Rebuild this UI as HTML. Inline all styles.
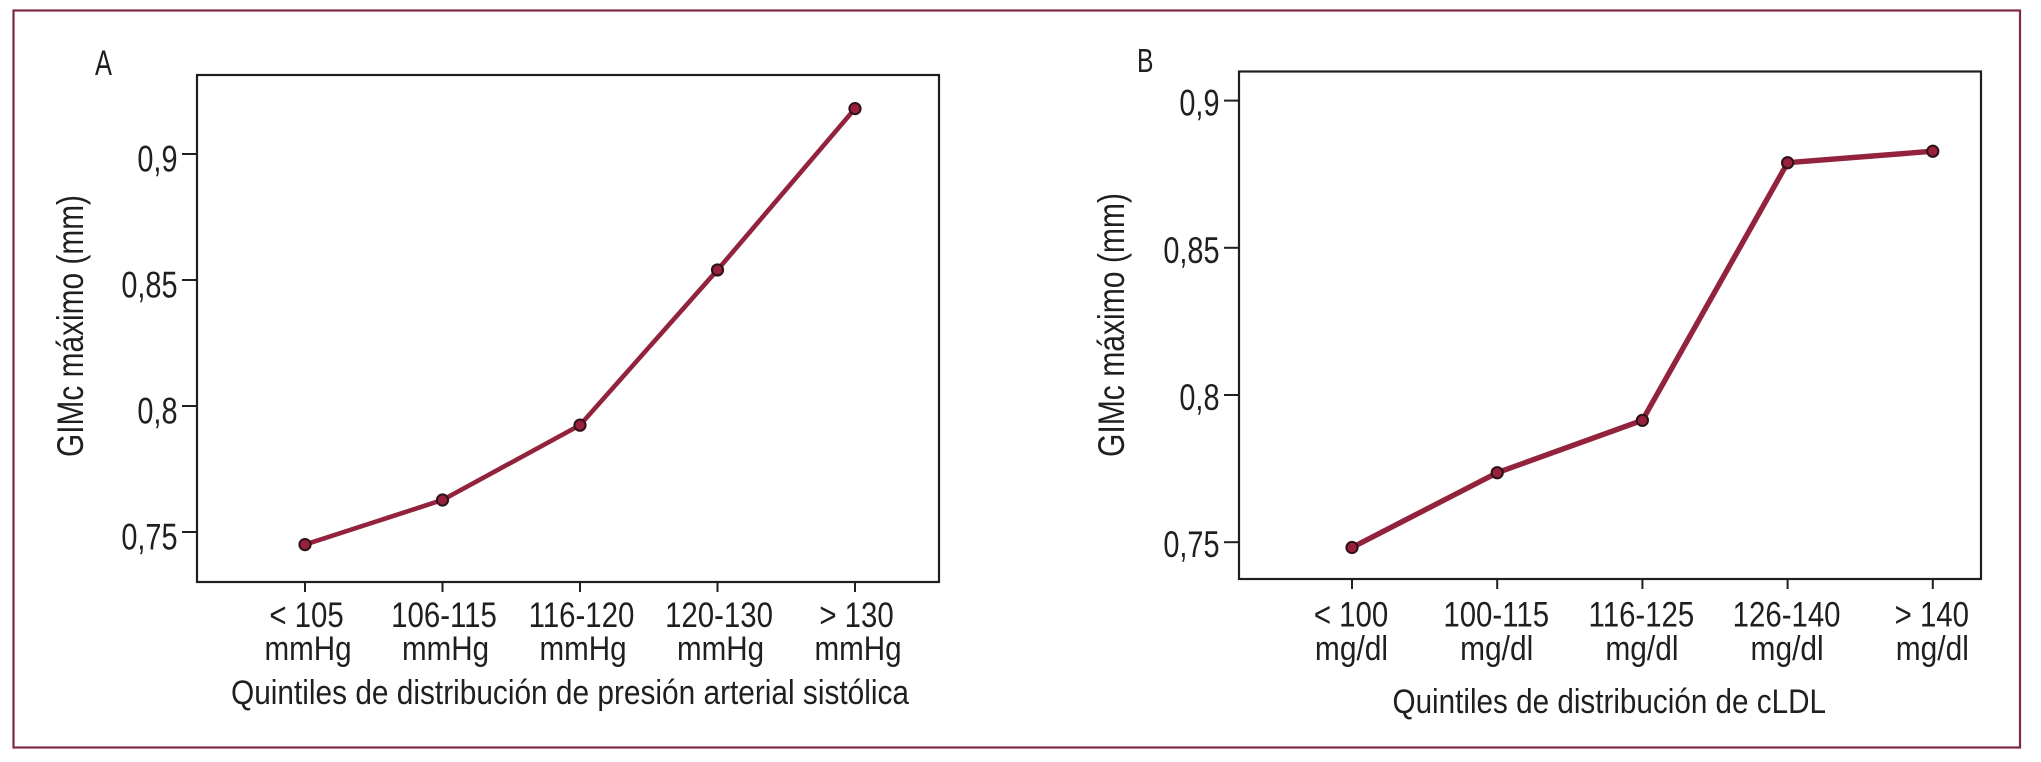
<!DOCTYPE html>
<html lang="es">
<head>
<meta charset="utf-8">
<title>GIMc máximo por quintiles</title>
<style>
html,body{margin:0;padding:0;background:#fff;width:2041px;height:762px;overflow:hidden}
svg{display:block}
text{font-family:"Liberation Sans",sans-serif;fill:#1f1f1f}
</style>
</head>
<body>
<svg id="chart" xmlns="http://www.w3.org/2000/svg" width="2041" height="762" viewBox="0 0 2041 762">
  <rect x="13.5" y="10.5" width="2006.5" height="737" fill="#fff" stroke="#7e2a45" stroke-width="2.2"/>
  <text x="95" y="75" font-size="35" textLength="17" lengthAdjust="spacingAndGlyphs">A</text>
  <text x="1137" y="72" font-size="33" textLength="16.5" lengthAdjust="spacingAndGlyphs">B</text>
  <text transform="translate(83,457) rotate(-90)" font-size="37" textLength="262" lengthAdjust="spacingAndGlyphs">GIMc máximo (mm)</text>
  <text transform="translate(1124,457) rotate(-90)" font-size="37" textLength="264" lengthAdjust="spacingAndGlyphs">GIMc máximo (mm)</text>
  <text x="231" y="704" font-size="34" textLength="678" lengthAdjust="spacingAndGlyphs">Quintiles de distribución de presión arterial sistólica</text>
  <text x="1392.5" y="713" font-size="34" textLength="433.5" lengthAdjust="spacingAndGlyphs">Quintiles de distribución de cLDL</text>
</svg>
<script>
const categoriesA = ['< 105', '106-115', '116-120', '120-130', '> 130'];
const categoriesB = ['< 100', '100-115', '116-125', '126-140', '> 140'];
const valuesA = [0.745, 0.7627, 0.7924, 0.854, 0.918];
const valuesB = [0.7482, 0.7736, 0.7914, 0.8789, 0.8828];
const tickValuesA = [0.75, 0.8, 0.85, 0.9];
const tickValuesB = [0.75, 0.8, 0.85, 0.9];
const tickLabelsA = ['0,75', '0,8', '0,85', '0,9'];
const tickLabelsB = ['0,75', '0,8', '0,85', '0,9'];
const unitA = 'mmHg';
const unitB = 'mg/dl';

const svg = document.getElementById('chart');
const NS = 'http://www.w3.org/2000/svg';
const INK = '#1f1f1f';
const LINE = '#93233c';
const FILL = '#98203a';

function make(tag, attrs, parent) {
  const el = document.createElementNS(NS, tag);
  for (const k in attrs) el.setAttribute(k, attrs[k]);
  parent.appendChild(el);
  return el;
}

function label(parent, x, y, txt, size, squeeze, anchor) {
  const t = make('text', {
    transform: 'translate(' + x + ',' + y + ') scale(' + squeeze + ',1)',
    'font-size': size,
    'text-anchor': anchor
  }, parent);
  t.textContent = txt;
  return t;
}

function drawPanel(id, box, xAxis, yAxis, cats, unit, vals, ticks, tickLabels) {
  const x = i => xAxis.start + xAxis.step * i;
  const y = v => yAxis.origin - (v - yAxis.base) * yAxis.perUnit;

  const g = make('g', {}, svg);
  
  

  const frame = make('rect', {
    x: box.left, y: box.top, width: box.right - box.left, height: box.bottom - box.top,
    fill: 'none', stroke: INK, 'stroke-width': 2.2
  }, g);
  
  

  ticks.forEach((v, i) => {
    const tick = make('line', {
      x1: box.left - 15, x2: box.left, y1: y(v), y2: y(v), stroke: INK, 'stroke-width': 2
    }, g);
    
    
    const t = label(g, box.left - 19.5, y(v) + yAxis.labelDrop, tickLabels[i], 37, 0.78, 'end');
    
    
  });

  cats.forEach((c, i) => {
    const tick = make('line', {
      x1: x(i), x2: x(i), y1: box.bottom, y2: box.bottom + 10, stroke: INK, 'stroke-width': 2
    }, g);
    
    
    const t1 = label(g, x(i) + xAxis.rangeShift, box.bottom + xAxis.rangeDrop, c, 35, 0.84, 'middle');
    
    
    const t2 = label(g, x(i) + xAxis.unitShift, box.bottom + xAxis.unitDrop, unit, 34, xAxis.unitSqueeze, 'middle');
    
    
  });

  const path = make('polyline', {
    points: vals.map((v, i) => x(i) + ',' + y(v)).join(' '),
    fill: 'none', stroke: LINE, 'stroke-width': xAxis.lineWidth, 'stroke-linejoin': 'round'
  }, g);
  
  

  vals.forEach((v, i) => {
    const dot = make('circle', {
      cx: x(i), cy: y(v), r: 5.6, fill: FILL, stroke: '#2c1218', 'stroke-width': 2
    }, g);
    
    
  });
}

drawPanel('panel-a',
  { left: 197, right: 939, top: 75, bottom: 582 },
  { start: 305, step: 137.5, rangeShift: 1.5, unitShift: 3, unitSqueeze: 0.87, rangeDrop: 45, unitDrop: 78, lineWidth: 4.6 },
  { origin: 532, base: 0.75, perUnit: 2520, labelDrop: 17.5 },
  categoriesA, unitA, valuesA, tickValuesA, tickLabelsA);

drawPanel('panel-b',
  { left: 1239, right: 1981, top: 71.5, bottom: 579 },
  { start: 1352, step: 145.2, rangeShift: -1, unitShift: -0.5, unitSqueeze: 0.88, rangeDrop: 47.5, unitDrop: 81, lineWidth: 5.4 },
  { origin: 395, base: 0.8, perUnit: 2944, labelDrop: 15 },
  categoriesB, unitB, valuesB, tickValuesB, tickLabelsB);
</script>
</body>
</html>
